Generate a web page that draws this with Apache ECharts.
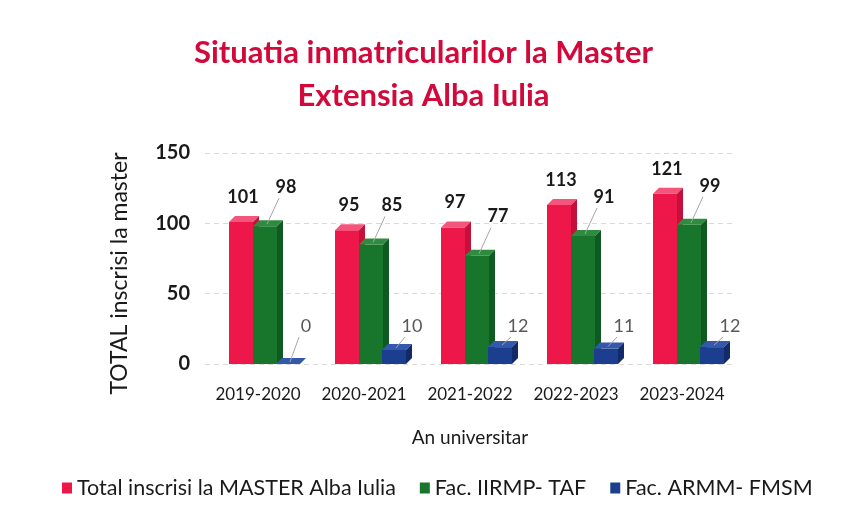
<!DOCTYPE html>
<html lang="ro">
<head>
    <meta charset="UTF-8">
    <title>Situatia inmatricularilor la Master</title>
</head>
<body style="margin:0;background:#fff">

    <div id="echarts" style="width: 847px; height: 513px"></div>
    <script src="https://cdn.jsdelivr.net/npm/echarts@6/dist/echarts.min.js"></script>
    <script>
        const years = ['2019-2020', '2020-2021', '2021-2022', '2022-2023', '2023-2024'];
        const totalMaster = [101, 95, 97, 113, 121];
        const facIIRMP = [98, 85, 77, 91, 99];
        const facARMM = [0, 10, 12, 11, 12];
        const yTicks = { min: 0, max: 150, interval: 50 };

        const FONT = 'Lato';
        const BAR_W = 24;
        const DEPTH = 6;

        // pseudo 3D column, like the Excel one
        function column3d(cfg) {
            return function (params, api) {
                const idx = api.value(0);
                const v = api.value(1);
                const base = api.coord([idx, 0]);
                const top = api.coord([idx, v]);
                const x0 = base[0] + cfg.offset;
                const x1 = x0 + BAR_W;
                const yt = top[1];
                const yb = base[1];
                const cx = x0 + BAR_W / 2;

                const children = [
                    { type: 'rect', shape: { x: x0, y: yt, width: BAR_W, height: yb - yt }, style: { fill: cfg.color } },
                    { type: 'polygon', shape: { points: [[x0, yt], [x0 + DEPTH, yt - DEPTH], [x1 + DEPTH, yt - DEPTH], [x1, yt]] }, style: { fill: cfg.topColor } },
                    { type: 'polygon', shape: { points: [[x1, yt], [x1 + DEPTH, yt - DEPTH], [x1 + DEPTH, yb - DEPTH], [x1, yb]] }, style: { fill: cfg.sideColor } }
                ];

                let lx, ly;
                if (cfg.label === 'top') {
                    lx = cx + 2;
                    ly = yt - 25;
                } else if (cfg.label === 'callout') {
                    lx = cx + 21;
                    ly = yt - 39;
                } else {
                    lx = cx + 18;
                    ly = yb - 38;
                }
                if (cfg.label !== 'top') {
                    children.push({
                        type: 'line',
                        shape: { x1: cx + 2, y1: yt - 2, x2: lx - 7, y2: ly + 11 },
                        style: { stroke: '#a6a6a6', lineWidth: 1 }
                    });
                }
                children.push({
                    type: 'text',
                    style: {
                        x: lx, y: ly, text: String(v),
                        align: 'center', verticalAlign: 'middle',
                        font: cfg.labelFont, fill: cfg.labelColor
                    }
                });
                return { type: 'group', children: children };
            };
        }

        const option = {
            title: {
                text: 'Situatia inmatricularilor la Master\nExtensia Alba Iulia',
                left: 'center',
                top: 26,
                textStyle: { color: '#D2093B', fontFamily: FONT, fontWeight: 'bold', fontSize: 31, lineHeight: 43 }
            },
            legend: {
                left: 57,
                bottom: 9,
                icon: 'rect',
                itemWidth: 10,
                itemHeight: 11,
                itemGap: 24,
                textStyle: { fontFamily: FONT, fontSize: 21.5, color: '#1a1a1a' }
            },
            grid: { left: 205, right: 112, top: 153, bottom: 149 },
            xAxis: {
                type: 'category',
                data: years,
                name: 'An universitar',
                nameLocation: 'middle',
                nameGap: 64,
                nameTextStyle: { fontFamily: FONT, fontSize: 19, color: '#1a1a1a' },
                axisLine: { show: false },
                axisTick: { show: false },
                axisLabel: { interval: 0, margin: 22, fontFamily: FONT, fontSize: 17, color: '#1a1a1a' }
            },
            yAxis: {
                type: 'value',
                min: yTicks.min,
                max: yTicks.max,
                interval: yTicks.interval,
                name: 'TOTAL inscrisi la master',
                nameLocation: 'middle',
                nameRotate: 90,
                nameGap: 74,
                nameTextStyle: { fontFamily: FONT, fontSize: 23, color: '#1a1a1a', padding: [0, 30, 0, 0] },
                axisLine: { show: false },
                axisTick: { show: false },
                axisLabel: { margin: 15, fontFamily: FONT, fontSize: 20, fontWeight: 'bold', color: '#1a1a1a' },
                splitLine: { lineStyle: { color: '#d9d9d9', type: [5, 4] } }
            },
            series: [
                {
                    name: 'Total inscrisi la MASTER Alba Iulia',
                    type: 'custom',
                    itemStyle: { color: '#EE1749' },
                    data: totalMaster.map((v, i) => [i, v]),
                    renderItem: column3d({
                        offset: -29, color: '#EE1749', topColor: '#F4557A', sideColor: '#C4103A',
                        label: 'top', labelFont: 'bold 18px Lato', labelColor: '#1a1a1a'
                    })
                },
                {
                    name: 'Fac. IIRMP- TAF',
                    type: 'custom',
                    itemStyle: { color: '#18752C' },
                    data: facIIRMP.map((v, i) => [i, v]),
                    renderItem: column3d({
                        offset: -5, color: '#18752C', topColor: '#2E8C40', sideColor: '#0F5A20',
                        label: 'callout', labelFont: 'bold 18px Lato', labelColor: '#1a1a1a'
                    })
                },
                {
                    name: 'Fac. ARMM- FMSM',
                    type: 'custom',
                    itemStyle: { color: '#1C3E8E' },
                    data: facARMM.map((v, i) => [i, v]),
                    renderItem: column3d({
                        offset: 18, color: '#1C3E8E', topColor: '#3458AC', sideColor: '#122B68',
                        label: 'low', labelFont: '18px Lato', labelColor: '#595959'
                    })
                }
            ]
        };

        var chartDom = document.getElementById("echarts");
        var myChart = echarts.init(chartDom);
        myChart.setOption(option);
    </script>
</body>
</html>
